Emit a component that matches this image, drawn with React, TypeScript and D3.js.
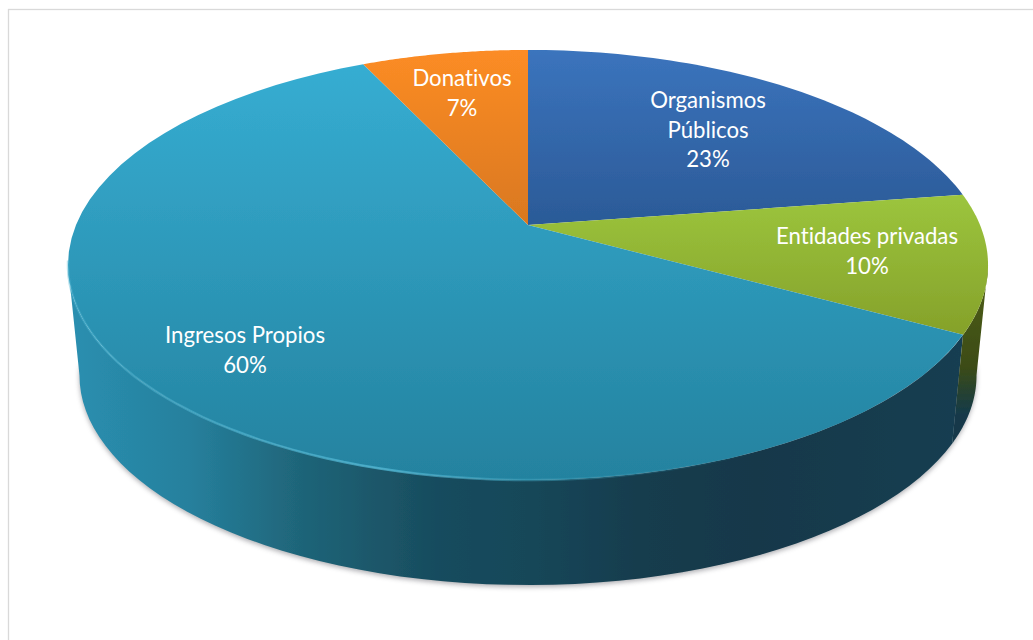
import React from "react";
import * as d3 from "d3";

const categories = ["Organismos Públicos", "Entidades privadas", "Ingresos Propios", "Donativos"];
const shares = [22.6, 10.4, 60, 7];
const labelLines = [["Organismos", "Públicos", "23%"], ["Entidades privadas", "10%"], ["Ingresos Propios", "60%"], ["Donativos", "7%"]];

const topColors = [["#3b74bd", "#2b5a97"], ["#9cc53d", "#85a12a"], ["#36add2", "#24829f"], ["#fc8c25", "#d9781f"]];
const labelX = [708, 867, 245, 462];
const labelY = [102, 238, 337, 80];

const width = 1033;
const height = 640;
const apex = { x: 528, y: 225 };
const persp = 0.186;
const radiusX = 452;
const radiusY = 207.6;
const depth = 111.4;
const bottomScale = 0.975;
const sideFrom = (100.7 * Math.PI) / 180;
const sideTo = (259.3 * Math.PI) / 180;

// circle seen in perspective, theta clockwise from 12 o'clock
const project = (theta: number, lower = false): [number, number] => {
  const X = Math.sin(theta);
  const Y = -Math.cos(theta);
  const w = 1 - persp * Y;
  const s = lower ? bottomScale : 1;
  return [apex.x + (s * radiusX * X) / w, apex.y + (lower ? depth : 0) + (s * radiusY * Y) / w];
};

const line = d3.line();
const rim = (a: number, b: number, lower = false) =>
  d3.range(0, 61).map((i) => project(a + ((b - a) * i) / 60, lower));

const slices = d3.pie<number>().sort(null)(shares);

const sidePath = (a: number, b: number) =>
  line([...rim(a, b), ...rim(b, a, true)]) + "Z";

const App = () => {
  return (
    <svg width={width} height={height} style={{ position: "absolute", left: 0, top: 0 }} fontFamily="Lato, Carlito, sans-serif">
      <defs>
        {slices.map((d, i) => (
          <linearGradient key={i} id={"top" + i} x1="0" y1="0" x2="0" y2="1">
            <stop offset="0" stopColor={topColors[i][0]} />
            <stop offset="1" stopColor={topColors[i][1]} />
          </linearGradient>
        ))}
        <linearGradient id="sideBlue" gradientUnits="userSpaceOnUse" x1="70" y1="0" x2="985" y2="0">
          <stop offset="0" stopColor="#2a8fb0" />
          <stop offset="0.13" stopColor="#26809d" />
          <stop offset="0.25" stopColor="#1f6579" />
          <stop offset="0.4" stopColor="#184c5e" />
          <stop offset="0.5" stopColor="#174759" />
          <stop offset="0.63" stopColor="#153c4d" />
          <stop offset="0.75" stopColor="#13384a" />
          <stop offset="1" stopColor="#143f52" />
        </linearGradient>
        <linearGradient id="sideOlive" gradientUnits="userSpaceOnUse" x1="0" y1="290" x2="0" y2="415">
          <stop offset="0" stopColor="#4a5a14" />
          <stop offset="0.6" stopColor="#3d4c14" />
          <stop offset="1" stopColor="#13394a" />
        </linearGradient>
        <linearGradient id="bevel" gradientUnits="userSpaceOnUse" x1="70" y1="0" x2="760" y2="0">
          <stop offset="0" stopColor="#4fb6d3" stopOpacity="0.4" />
          <stop offset="0.45" stopColor="#4fb6d3" stopOpacity="0.8" />
          <stop offset="1" stopColor="#2b8fa8" stopOpacity="0" />
        </linearGradient>
        <filter id="blur" x="-5%" y="-5%" width="110%" height="110%">
          <feGaussianBlur stdDeviation="2.5" />
        </filter>
        <filter id="soft" x="-1%" y="-1%" width="102%" height="102%">
          <feGaussianBlur stdDeviation="0.6" />
        </filter>
      </defs>

      <rect x="8.5" y="9.5" width={1040} height={660} fill="#fff" stroke="#d9d9d9" strokeWidth="1.3" />

      <g filter="url(#blur)" opacity="0.55">
        <path d={line(rim(sideFrom - 0.05, sideTo + 0.05, true)) + "Z"} fill="#6a6a72" transform="translate(0,2)" />
      </g>

      <g filter="url(#soft)">
        {/* wall */}
        <path d={sidePath(slices[2].startAngle, sideTo)} fill="url(#sideBlue)" />
        <path d={sidePath(sideFrom, slices[2].startAngle)} fill="url(#sideOlive)" />

        {/* top face */}
        {slices.map((d, i) => (
          <path
            key={categories[i]}
            d={line([[apex.x, apex.y], ...rim(d.startAngle, d.endAngle)]) + "Z"}
            fill={`url(#top${i})`}
          />
        ))}

        <path
          d={line(rim(slices[2].startAngle + 0.35, sideTo + 0.02)) ?? ""}
          fill="none"
          stroke="url(#bevel)"
          strokeWidth="2.5"
        />
      </g>

      {labelLines.map((rows, i) => (
        <text
          key={i}
          x={labelX[i]}
          y={labelY[i]}
          textAnchor="middle"
          fontSize="22.2"
          fill="#fff"
          dominantBaseline="middle"
          style={{ fontVariantLigatures: "none" }}
        >
          {rows.map((t, j) => (
            <tspan key={j} x={labelX[i]} dy={j === 0 ? 0 : 29.5}>
              {t}
            </tspan>
          ))}
        </text>
      ))}
    </svg>
  );
};

export default App;
